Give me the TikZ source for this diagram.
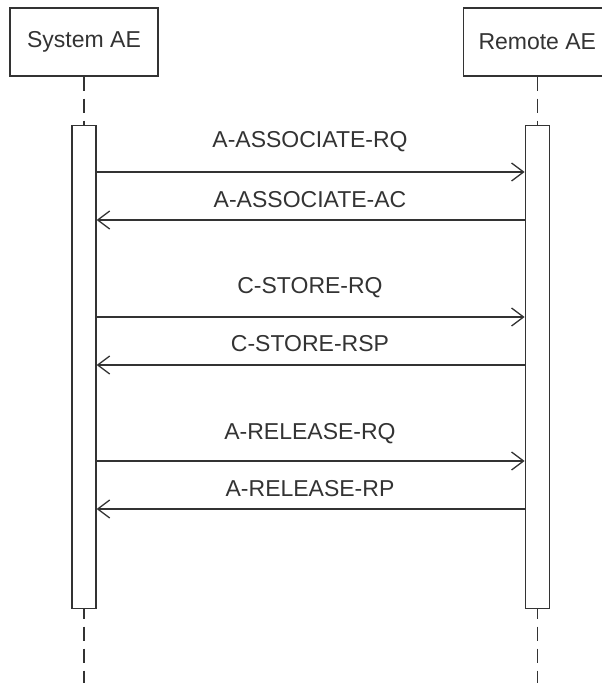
\documentclass[tikz,border=0pt]{standalone}
\usepackage{fontspec}
\setmainfont{Liberation Sans}
\usepackage{tikz}
\usepackage{xcolor}
\usetikzlibrary{positioning}
\usetikzlibrary{arrows.meta}

\begin{document}
\begin{tikzpicture}
[
x=1pt, y=1pt,
line-a/.style={draw=black!80, line width=1.3pt},
head-a/.style={line-a, rectangle, minimum width=148pt, minimum height=68pt, inner sep=0pt, text=black!80, font=\fontsize{23}{27}\selectfont},
bar-a/.style={line-a, rectangle, fill=white, minimum width=24pt, minimum height=483pt, inner sep=0pt},
life-a/.style={line-a, dash pattern=on 14pt off 8pt},
msg-a/.style={line-a, -{Straight Barb[length=12pt, width=18pt, line width=1.3pt]}},
text-a/.style={inner sep=0pt, text=black!80, font=\fontsize{23}{27}\selectfont}
]
\useasboundingbox (0,0) rectangle (602,683);
\node (head-sys)  [head-a]                                 at (84,641) {System AE};
\node (head-rem)  [head-a, right = 304pt of head-sys]                  {Remote AE};
\coordinate (end-sys) at (head-sys.south |- 0,0);
\coordinate (end-rem) at (head-rem.south |- 0,0);
\draw [life-a] (head-sys.south) -- (end-sys);
\draw [life-a] (head-rem.south) -- (end-rem);
\node (bar-sys)   [bar-a, below = 48pt of head-sys]        {};
\node (bar-rem)   [bar-a, below = 48pt of head-rem]        {};
% messages
\coordinate (msg-1) at (310,511);
\coordinate (msg-2) at (310,463);
\coordinate (msg-3) at (310,366);
\coordinate (msg-4) at (310,318);
\coordinate (msg-5) at (310,222);
\coordinate (msg-6) at (310,174);
\node (msg-1-lb)  [text-a, above = 24pt of msg-1, anchor=base] {A-ASSOCIATE-RQ};
\node (msg-2-lb)  [text-a, above = 12pt of msg-2, anchor=base] {A-ASSOCIATE-AC};
\node (msg-3-lb)  [text-a, above = 23pt of msg-3, anchor=base] {C-STORE-RQ};
\node (msg-4-lb)  [text-a, above = 13pt of msg-4, anchor=base] {C-STORE-RSP};
\node (msg-5-lb)  [text-a, above = 21pt of msg-5, anchor=base] {A-RELEASE-RQ};
\node (msg-6-lb)  [text-a, above = 12pt of msg-6, anchor=base] {A-RELEASE-RP};
\draw [msg-a] (bar-sys.east |- msg-1) -- (bar-rem.west |- msg-1);
\draw [msg-a] (bar-rem.west |- msg-2) -- (bar-sys.east |- msg-2);
\draw [msg-a] (bar-sys.east |- msg-3) -- (bar-rem.west |- msg-3);
\draw [msg-a] (bar-rem.west |- msg-4) -- (bar-sys.east |- msg-4);
\draw [msg-a] (bar-sys.east |- msg-5) -- (bar-rem.west |- msg-5);
\draw [msg-a] (bar-rem.west |- msg-6) -- (bar-sys.east |- msg-6);
\end{tikzpicture}
\end{document}
